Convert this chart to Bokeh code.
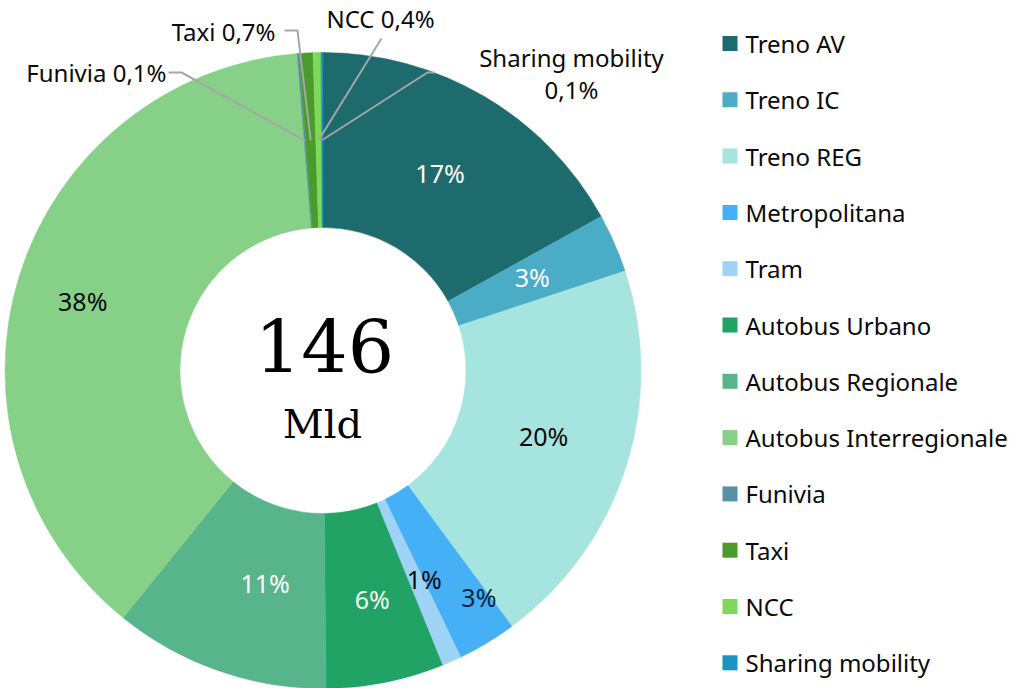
import numpy as np
from bokeh.plotting import figure
from bokeh.models import Range1d, ColumnDataSource
from bokeh.core.properties import value
from bokeh.embed import file_html
from bokeh.resources import INLINE

# ---------------- data ----------------
categories = ["Treno AV", "Treno IC", "Treno REG", "Metropolitana", "Tram",
              "Autobus Urbano", "Autobus Regionale", "Autobus Interregionale",
              "Funivia", "Taxi", "NCC", "Sharing mobility"]
shares = [17, 3, 20, 3, 1, 6, 11, 38, 0.1, 0.7, 0.4, 0.1]
colors = ["#1e6b6d", "#4bacc6", "#a6e4e0", "#45b0f5", "#9fd3f5",
          "#22a366", "#58b48b", "#86d088", "#5b8fa8", "#4b9a2c",
          "#7ed85a", "#1a93c0"]
total_text = "146"
unit_text = "Mld"

# ---------------- layout ----------------
REF_W, REF_H = 1015, 688
W, H = 1015, 688
S = W / REF_W  # screen px per layout unit


def Y(img_y):
    return REF_H - img_y


def fs(px):
    return f"{px * S:.1f}px"


p = figure(width=W, height=H, x_range=Range1d(0, REF_W), y_range=Range1d(0, REF_H),
           output_backend="svg", toolbar_location=None, min_border=0)
p.axis.visible = False
p.grid.visible = False
p.outline_line_color = None
p.background_fill_color = "white"
p.border_fill_color = "white"

cx, cy = 322.5, Y(370)
r_out, r_in = 318, 143
r_mid = (r_out + r_in) / 2

vals = np.array(shares, dtype=float)
frac = vals / vals.sum()
cum = np.concatenate([[0.0], np.cumsum(frac)])
start = np.pi / 2 - 2 * np.pi * cum[1:]
end = np.pi / 2 - 2 * np.pi * cum[:-1]
mid = (start + end) / 2

src = ColumnDataSource(dict(cat=categories, start=start, end=end, color=colors))
p.annular_wedge(x=cx, y=cy, inner_radius=r_in, outer_radius=r_out,
                start_angle="start", end_angle="end", direction="anticlock",
                fill_color="color", line_color="color", line_width=0.5, source=src)


def fmt(v):
    if v >= 1:
        return f"{v:.0f}%"
    return f"{v:.1f}".replace(".", ",") + "%"


font = value("Noto Sans")
TXT = "#0a0a0a"

# inner labels (big slices)
inner_idx = [i for i, v in enumerate(shares) if v >= 1]
inner_nudge = {0: (0, 1), 1: (-2, -1), 2: (1, -4), 3: (37, 29), 4: (8, -2),
               5: (4, 2), 6: (18, -5), 7: (-20, -2)}
inner_colors = {0: "white", 1: "white", 2: TXT, 3: "#0f2340", 4: TXT,
                5: "#f0fff0", 6: "white", 7: TXT}
lx, ly, lt, lc = [], [], [], []
for i in inner_idx:
    dx, dy = inner_nudge[i]
    lx.append(cx + r_mid * np.cos(mid[i]) + dx)
    ly.append(cy + r_mid * np.sin(mid[i]) - dy)
    lt.append(fmt(shares[i]))
    lc.append(inner_colors[i])
p.text(x=lx, y=ly, text=lt, text_color=lc, text_font=font, text_font_size=fs(25),
       text_align="center", text_baseline="middle")

# outer labels with leader lines (tiny slices)
small_idx = [i for i, v in enumerate(shares) if v < 1]
leader_pts = {8: [(181, 72), (168, 72)],
              9: [(297, 30), (284, 30)],
              10: [(381, 38)],
              11: [(427, 72), (434, 72)]}
label_pos = {8: (166, 72, "right"), 9: (275, 31, "right"),
             10: (380, 18, "center"), 11: (571, 57, "center")}
xs, ys = [], []
for i in small_idx:
    x0 = cx + r_mid * np.cos(mid[i])
    y0 = cy + r_mid * np.sin(mid[i])
    pts = leader_pts[i]
    xs.append([x0] + [q[0] for q in pts])
    ys.append([y0] + [Y(q[1]) for q in pts])
p.multi_line(xs=xs, ys=ys, line_color="#a6a6a6", line_width=2)

for i in small_idx:
    tx, ty, al = label_pos[i]
    name = categories[i]
    if len(name) > 8:
        lines = [name, fmt(shares[i])]
    else:
        lines = [f"{name} {fmt(shares[i])}"]
    for k, ln in enumerate(lines):
        p.text(x=[tx], y=[Y(ty + 32 * k)], text=[ln], text_color=TXT, text_font=font,
               text_font_size=fs(24), text_align=al, text_baseline="middle")

# centre text
p.text(x=[324], y=[Y(346)], text=[total_text], text_font=value("DejaVu Serif"),
       text_font_size=fs(73), text_align="center", text_baseline="middle", text_color="black")
p.text(x=[322], y=[Y(423)], text=[unit_text], text_font=value("DejaVu Serif"),
       text_font_size=fs(40), text_align="center", text_baseline="middle", text_color="black")

# legend
leg_y = [Y(43 + 56.3 * k) for k in range(len(categories))]
p.scatter(x=[729.5] * len(categories), y=leg_y, marker="square", size=15 * S,
          fill_color=colors, line_color=None)
p.text(x=[745] * len(categories), y=leg_y, text=categories, text_font=font,
       text_font_size=fs(24), text_align="left", text_baseline="middle", text_color=TXT)

open("out.html", "w").write(file_html(p, INLINE))
